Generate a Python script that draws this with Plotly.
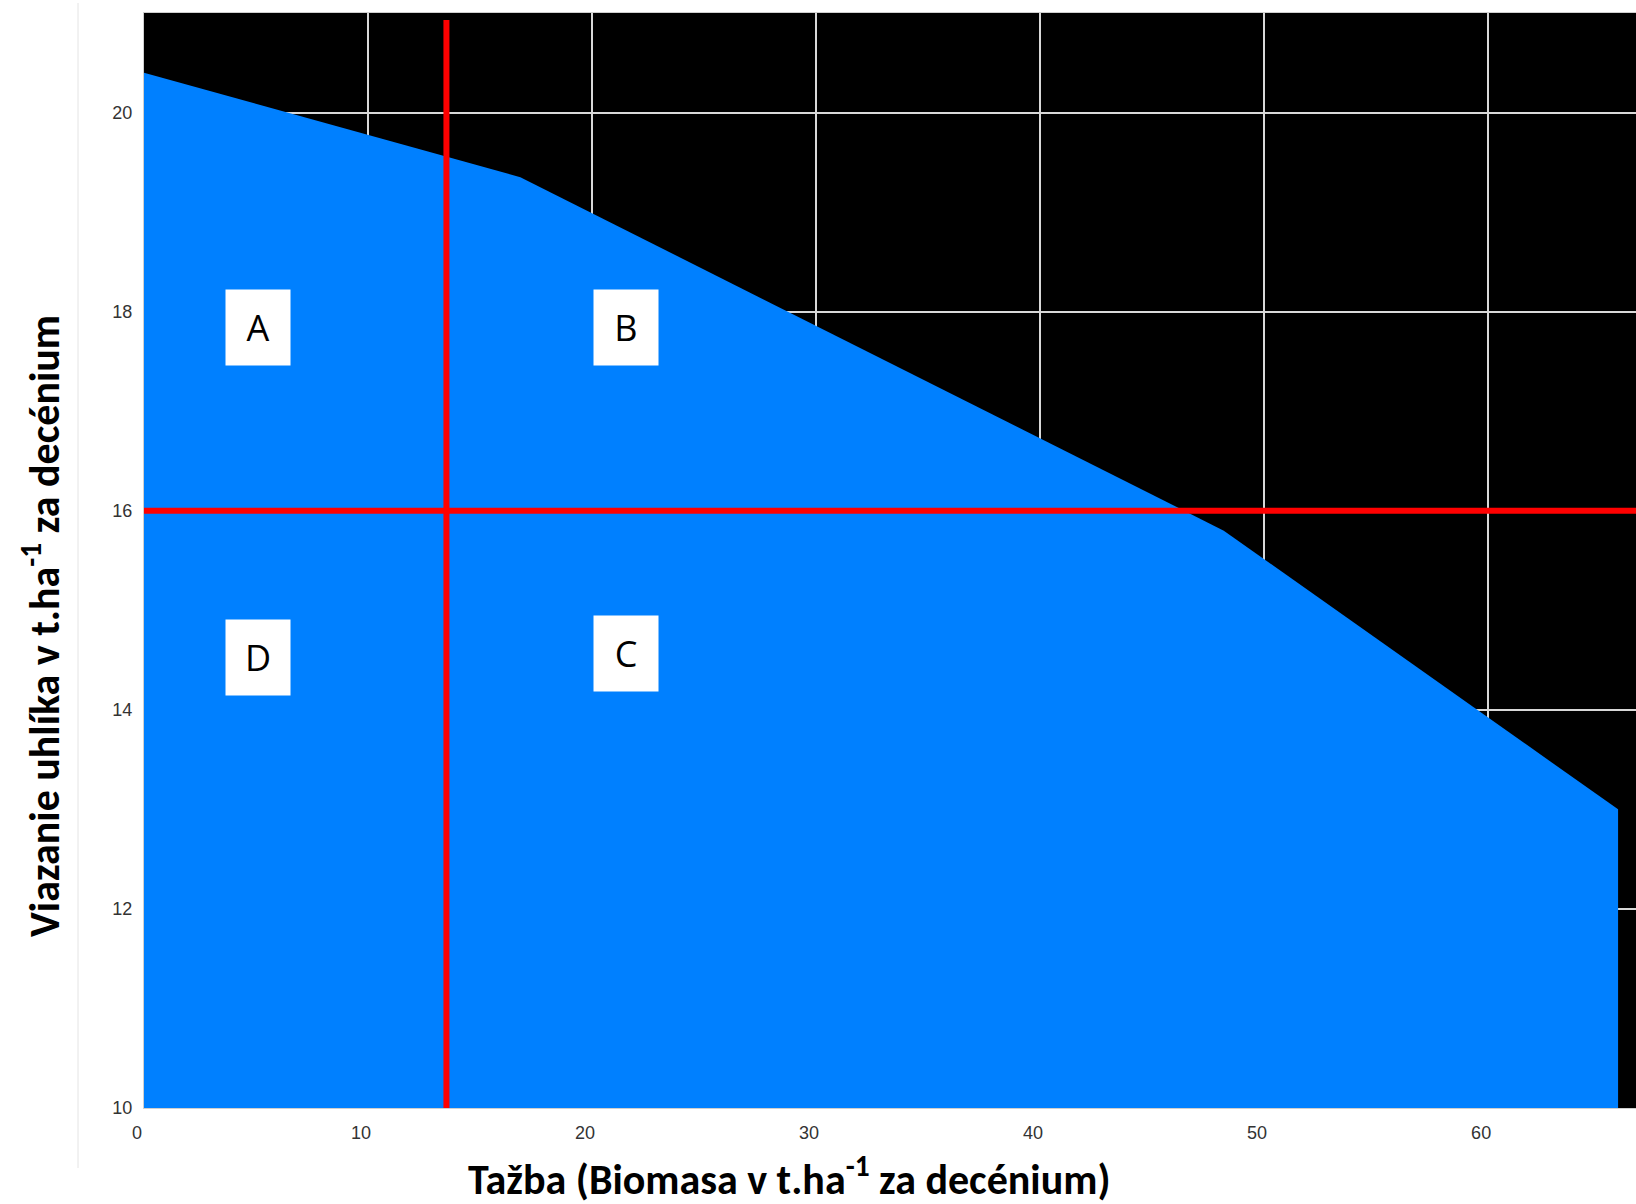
import plotly.graph_objects as go

# Data
harvest = [0, 16.8, 48.2, 65.8]          # Ťažba (t/ha per decade)
carbon = [20.40, 19.35, 15.80, 13.0]      # Viazanie uhlíka (t/ha per decade)

red_x = 13.5      # vertical threshold (harvest)
red_y = 16.0      # horizontal threshold (carbon)

region_labels = ["A", "B", "C", "D"]
region_x = [5.1, 21.5, 21.5, 5.1]
region_y = [17.84, 17.84, 14.57, 14.53]

x_ticks = [0, 10, 20, 30, 40, 50, 60]
y_ticks = [10, 12, 14, 16, 18, 20]

W, H = 1636, 1204
L, R, T, B = 144, 0, 13, 96
X_MAX = 66.6
Y_MIN, Y_MAX = 10, 21.0

fig = go.Figure()

fig.add_trace(go.Scatter(
    x=harvest, y=carbon, mode="lines", fill="tozeroy",
    line=dict(color="#0080ff", width=0), fillcolor="#0080ff",
    hoverinfo="skip", showlegend=False))

fig.add_trace(go.Scatter(
    x=[red_x, red_x], y=[Y_MIN, 20.93], mode="lines",
    line=dict(color="#ff0000", width=6), showlegend=False, hoverinfo="skip"))
fig.add_trace(go.Scatter(
    x=[0, X_MAX], y=[red_y, red_y], mode="lines",
    line=dict(color="#ff0000", width=6), showlegend=False, hoverinfo="skip"))

for lab, lx, ly in zip(region_labels, region_x, region_y):
    fig.add_annotation(x=lx, y=ly, xref="x", yref="y", text=lab, showarrow=False,
                       font=dict(family="Open Sans, Lato, Liberation Sans, sans-serif", size=36, color="black"),
                       bgcolor="white", width=64, height=75, borderpad=0,
                       align="center", valign="middle")

title_font = dict(family="Carlito, Lato, Open Sans, sans-serif", size=42, color="black")
pw = W - L - R
ph = H - T - B
fig.add_annotation(text="<b>Tažba (Biomasa v t.ha<sup>-1</sup> za decénium)</b>",
                   xref="paper", yref="paper", x=(789 - L) / pw, y=(H - B - 1176) / ph,
                   xanchor="center", yanchor="middle", showarrow=False, font=title_font)
fig.add_annotation(text="<b>Viazanie uhlíka v t.ha<sup>-1</sup> za decénium</b>",
                   xref="paper", yref="paper", x=(41 - L) / pw, y=(H - B - 626) / ph,
                   xanchor="center", yanchor="middle", textangle=-90, showarrow=False, font=title_font)

# faint vertical border line on the left
fig.add_shape(type="line", xref="paper", yref="paper",
              x0=(78 - L) / pw, x1=(78 - L) / pw, y0=(H - B - 3) / ph, y1=(H - B - 1168) / ph,
              line=dict(color="#e4e4e4", width=1))

tick_font = dict(family="Liberation Sans Narrow, Arial Narrow, Liberation Sans, Arial, sans-serif",
                 size=18, color="#333333")

fig.update_xaxes(range=[0, X_MAX], tickvals=x_ticks, ticktext=[str(v) for v in x_ticks],
                 showgrid=True, gridcolor="#d8d8d8", gridwidth=1.5, zeroline=False,
                 showline=True, linecolor="#cfcfcf", linewidth=1, mirror=True,
                 ticks="", tickfont=tick_font, ticklabelstandoff=8, ticklabelshift=-7)
fig.update_yaxes(range=[Y_MIN, Y_MAX], tickvals=y_ticks, ticktext=[str(v) for v in y_ticks],
                 showgrid=True, gridcolor="#d8d8d8", gridwidth=1.5, zeroline=False,
                 showline=True, linecolor="#cfcfcf", linewidth=1, mirror=True,
                 ticks="", tickfont=tick_font, ticklabelstandoff=7)

fig.update_layout(width=W, height=H, margin=dict(l=L, r=R, t=T, b=B),
                  plot_bgcolor="black", paper_bgcolor="white", showlegend=False)

fig.write_html("out.html", config={"displayModeBar": False},
               post_script="document.body.style.margin='0';document.body.style.overflow='hidden';")
